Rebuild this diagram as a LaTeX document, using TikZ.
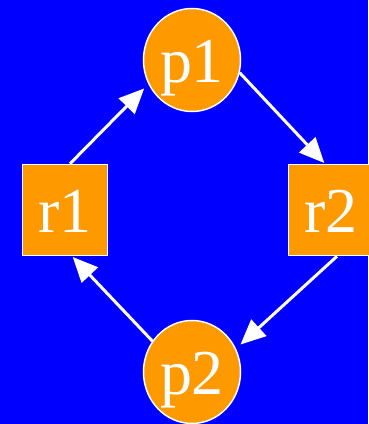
\documentclass[tikz,border=0pt]{standalone}
\usepackage{fontspec}
\setmainfont{Liberation Serif}
\usepackage{xcolor}
\usepackage{tikz}
\usetikzlibrary{arrows.meta,shapes.geometric}
\definecolor{netblue}{RGB}{0,0,255}
\definecolor{netorange}{RGB}{255,153,0}

\begin{document}
\begin{tikzpicture}[x=1pt,y=1pt,
  place/.style={ellipse,draw=white,line width=1.5pt,fill=netorange,
    minimum width=97pt,minimum height=103pt,inner sep=0pt,text=white,
    font=\fontsize{64}{64}\selectfont,text height=46pt,text depth=0pt},
  trans/.style={rectangle,draw=white,line width=1.5pt,fill=netorange,
    minimum width=85pt,minimum height=91pt,inner sep=0pt,text=white,
    font=\fontsize{64}{64}\selectfont,text height=46pt,text depth=0pt},
  arc/.style={draw=white,line width=3pt,-{Triangle[length=25pt,width=22pt]}}]
  % background
  \fill[netblue] (0,0) rectangle (368,424);
  \useasboundingbox (0,0) rectangle (368,424);
  % places
  \node[place] (p1) at (192,364) {p1};
  \node[place] (p2) at (192,52) {p2};
  % transitions
  \node[trans] (r1) at (65,214) {r1};
  \node[trans] (r2) at (331,214) {r2};
  % arcs
  \draw[arc,shorten >=6pt] ([xshift=5pt]r1.north) -- (p1.209);
  \draw[arc,shorten >=1pt] (p1.345) -- ([xshift=-6pt]r2.north);
  \draw[arc,shorten >=6pt] ([xshift=6pt]r2.south) -- (p2.28);
  \draw[arc,shorten >=1pt] (p2.142) -- ([xshift=7pt]r1.south);
\end{tikzpicture}
\end{document}
